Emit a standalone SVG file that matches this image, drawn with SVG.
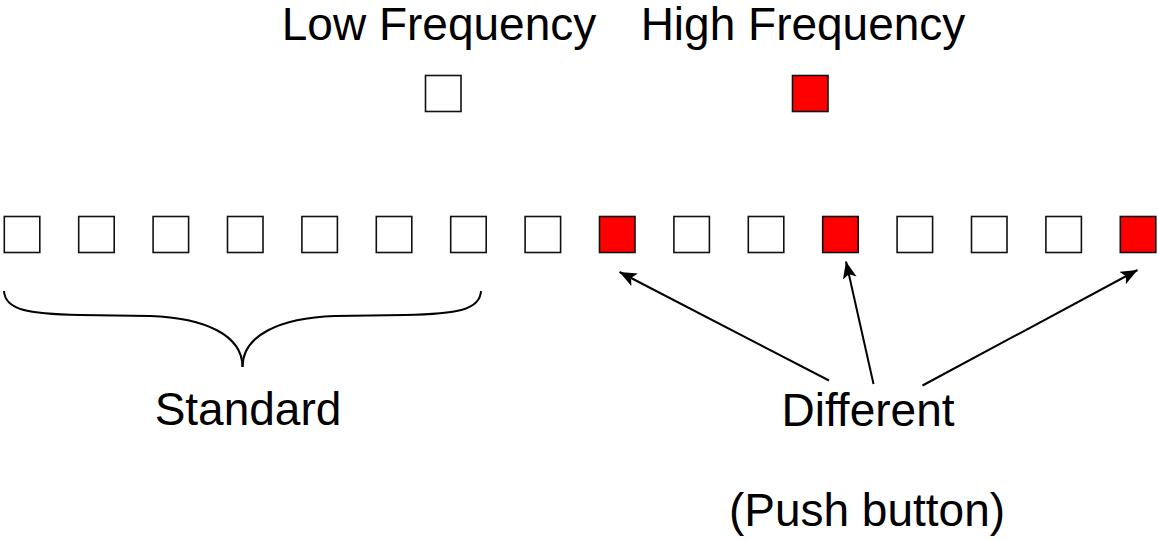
<svg xmlns="http://www.w3.org/2000/svg" width="1158" height="540" viewBox="0 0 1158 540">
<style>
  .lbl { font-family: "Liberation Sans", Arial, sans-serif; font-size: 46px; fill: #000; text-anchor: middle; }
  .sq { stroke: #111; stroke-width: 1.6; }
  .low { fill: #fff; }
  .high { fill: #ff0000; }
  .conn { stroke: #000; stroke-width: 2; fill: none; }
</style>
<defs>
  <marker id="ah" markerUnits="userSpaceOnUse" markerWidth="20" markerHeight="16" refX="17" refY="7" orient="auto">
    <path d="M0,0 L17,7 L0,14 L4,7 Z" fill="#000"/>
  </marker>
</defs>
<rect width="1158" height="540" fill="#fff"/>

<g id="legend-low">
  <text class="lbl" x="439" y="40">Low Frequency</text>
  <rect class="sq low" x="425.5" y="75.5" width="35.5" height="36"/>
</g>
<g id="legend-high">
  <text class="lbl" x="803" y="40">High Frequency</text>
  <rect class="sq high" x="792.5" y="75.5" width="35.5" height="36"/>
</g>

<g id="row">
  <rect id="s1" class="sq low" x="4.3" y="216.5" width="35.5" height="36"/>
  <rect id="s2" class="sq low" x="78.7" y="216.5" width="35.5" height="36"/>
  <rect id="s3" class="sq low" x="153.1" y="216.5" width="35.5" height="36"/>
  <rect id="s4" class="sq low" x="227.5" y="216.5" width="35.5" height="36"/>
  <rect id="s5" class="sq low" x="301.9" y="216.5" width="35.5" height="36"/>
  <rect id="s6" class="sq low" x="376.3" y="216.5" width="35.5" height="36"/>
  <rect id="s7" class="sq low" x="450.7" y="216.5" width="35.5" height="36"/>
  <rect id="s8" class="sq low" x="525.1" y="216.5" width="35.5" height="36"/>
  <rect id="s9" class="sq high" x="599.5" y="216.5" width="35.5" height="36"/>
  <rect id="s10" class="sq low" x="673.9" y="216.5" width="35.5" height="36"/>
  <rect id="s11" class="sq low" x="748.3" y="216.5" width="35.5" height="36"/>
  <rect id="s12" class="sq high" x="822.7" y="216.5" width="35.5" height="36"/>
  <rect id="s13" class="sq low" x="897.1" y="216.5" width="35.5" height="36"/>
  <rect id="s14" class="sq low" x="971.5" y="216.5" width="35.5" height="36"/>
  <rect id="s15" class="sq low" x="1045.9" y="216.5" width="35.5" height="36"/>
  <rect id="s16" class="sq high" x="1120.3" y="216.5" width="35.5" height="36"/>
</g>

<g id="standard">
  <path class="conn" d="M4,291 C5,310 28,314 80,315 L150,316 C205,318 242.5,335 242.5,367"/>
  <path class="conn" d="M481,291 C480,310 457,314 405,315 L335,316 C280,318 242.5,335 242.5,367"/>
  <text class="lbl" x="248" y="425">Standard</text>
</g>

<g id="different">
  <text class="lbl" x="868" y="426">Different</text>
  <text class="lbl" x="867" y="526">(Push button)</text>
</g>

<g id="connectors">
  <line class="conn" x1="829" y1="380.5" x2="619.5" y2="272" marker-end="url(#ah)"/>
  <line class="conn" x1="873.5" y1="384" x2="846" y2="261.5" marker-end="url(#ah)"/>
  <line class="conn" x1="922.5" y1="385.5" x2="1137.5" y2="270" marker-end="url(#ah)"/>
</g>
</svg>
